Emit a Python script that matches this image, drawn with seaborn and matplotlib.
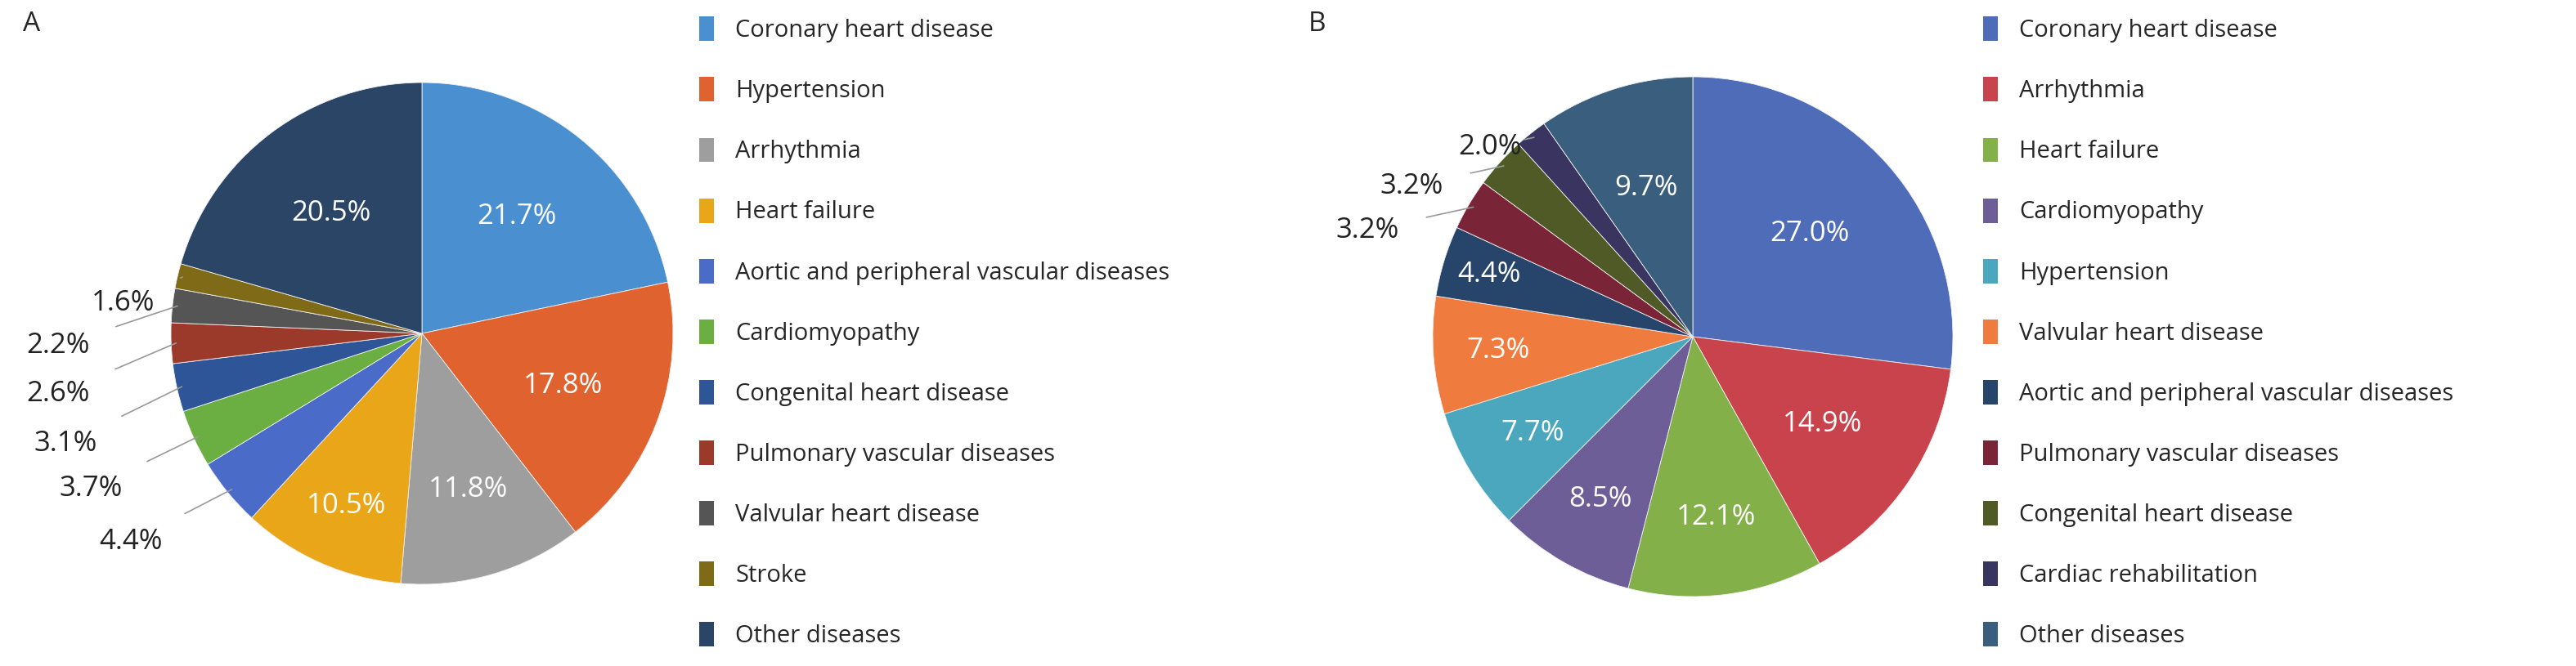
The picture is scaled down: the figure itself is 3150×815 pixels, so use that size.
import numpy as np
import matplotlib.pyplot as plt
import seaborn as sns
from matplotlib.patches import Patch

sns.set_theme(style="white")
plt.rcParams['font.family'] = ['Open Sans', 'DejaVu Sans']

# panel A
cats_a = ['Coronary heart disease', 'Hypertension', 'Arrhythmia', 'Heart failure',
          'Aortic and peripheral vascular diseases', 'Cardiomyopathy',
          'Congenital heart disease', 'Pulmonary vascular diseases',
          'Valvular heart disease', 'Stroke', 'Other diseases']
vals_a = [21.7, 17.8, 11.8, 10.5, 4.4, 3.7, 3.1, 2.6, 2.2, 1.6, 20.5]
cols_a = ['#4A8FD0', '#E0622F', '#9E9E9E', '#E8A618', '#4A6CC8', '#6BAF43',
          '#2E5597', '#9B3A2A', '#555555', '#7F6A17', '#2A4566']

# panel B
cats_b = ['Coronary heart disease', 'Arrhythmia', 'Heart failure', 'Cardiomyopathy',
          'Hypertension', 'Valvular heart disease',
          'Aortic and peripheral vascular diseases', 'Pulmonary vascular diseases',
          'Congenital heart disease', 'Cardiac rehabilitation', 'Other diseases']
vals_b = [27.0, 14.9, 12.1, 8.5, 7.7, 7.3, 4.4, 3.2, 3.2, 2.0, 9.7]
cols_b = ['#4F6CB8', '#C8434B', '#84B04A', '#6E5E97', '#4BA7BE', '#EF7C3E',
          '#27456B', '#7A2537', '#4F5A26', '#3A3560', '#3A5F7E']

# outside label positions (index -> text xy in radius units)
out_a = {4: (-1.16, -0.83), 5: (-1.32, -0.62), 6: (-1.42, -0.44),
         7: (-1.45, -0.24), 8: (-1.45, -0.05), 9: (-1.19, 0.12)}
out_b = {7: (-1.25, 0.41), 8: (-1.08, 0.58), 9: (-0.78, 0.73)}

W, H = 3150, 815
fig = plt.figure(figsize=(W / 100, H / 100), dpi=100)


def draw(cx, cy, r, vals, cols, cats, outside, inpos, legx, letter, letx):
    ax = fig.add_axes([(cx - r) / W, (H - cy - r) / H, 2 * r / W, 2 * r / H])
    wedges, _ = ax.pie(vals, colors=cols, startangle=90, counterclock=False,
                       wedgeprops=dict(edgecolor='#f0f0f0', linewidth=0.6))
    ax.set_xlim(-1, 1)
    ax.set_ylim(-1, 1)
    ax.set_aspect('equal')
    for i, (w, v) in enumerate(zip(wedges, vals)):
        ang = np.deg2rad((w.theta1 + w.theta2) / 2)
        txt = f'{v:.1f}%'
        if i in outside:
            tx, ty = outside[i]
            ax.annotate(txt, xy=(np.cos(ang) * 0.98, np.sin(ang) * 0.98),
                        xytext=(tx, ty), fontsize=25, color='#222222',
                        ha='center', va='center', annotation_clip=False,
                        arrowprops=dict(arrowstyle='-', color='#999999', lw=1.2,
                                        shrinkA=22, shrinkB=0))
        else:
            d = inpos.get(i, 0.6)
            ax.text(np.cos(ang) * d, np.sin(ang) * d, txt, fontsize=25,
                    color='white', ha='center', va='center')
    handles = [Patch(facecolor=c, edgecolor='none') for c in cols]
    fig.legend(handles, cats, loc='upper left', bbox_to_anchor=(legx / W, 1.0),
               frameon=False, fontsize=21, labelspacing=1.45, handlelength=0.6,
               handleheight=1.2, handletextpad=0.9, borderaxespad=0.3)
    fig.text(letx / W, 1 - 30 / H, letter, fontsize=24, ha='left', va='center')


draw(516, 408, 307, vals_a, cols_a, cats_a, out_a,
     {0: 0.6, 3: 0.75, 2: 0.65}, 835, 'A', 28)
draw(2070, 412, 318, vals_b, cols_b, cats_b, out_b,
     {6: 0.82, 5: 0.75, 4: 0.72, 3: 0.72, 2: 0.7}, 2405, 'B', 1600)

fig.savefig('out.png', dpi=100, facecolor='white')
